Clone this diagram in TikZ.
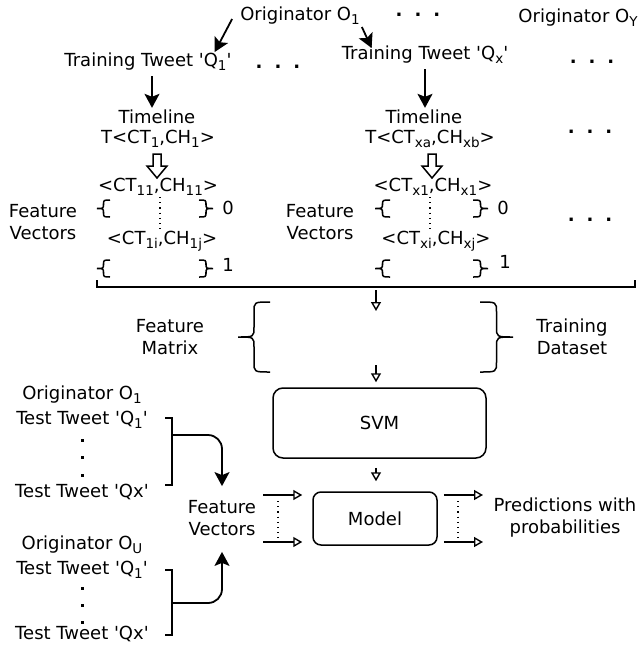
\documentclass[tikz,border=0pt]{standalone}
\usepackage{fontspec}
\setmainfont{DejaVu Sans}
\usetikzlibrary{arrows.meta}

\newcommand{\dotrow}{\textbf{.\hspace{12pt}.\hspace{12pt}.}}
\newcommand{\sq}{\textquotesingle}
\newcommand{\sub}[1]{\raisebox{-4pt}{\fontsize{13.5}{14}\selectfont #1}}
% curly brace: end x, tip x, top y, bottom y, bend
\newcommand{\curly}[5]{%
  \draw[brc] (#1,#3) .. controls ({(#1+#2)/2},#3) .. ({(#1+#2)/2},#3+#5)
    -- ({(#1+#2)/2},{(#3+#4)/2-#5}) .. controls ({(#1+#2)/2},{(#3+#4)/2}) .. (#2,{(#3+#4)/2})
    .. controls ({(#1+#2)/2},{(#3+#4)/2}) .. ({(#1+#2)/2},{(#3+#4)/2+#5})
    -- ({(#1+#2)/2},#4-#5) .. controls ({(#1+#2)/2},#4) .. (#1,#4);}
% fat open arrow pointing down
\newcommand{\fatdown}[2]{%
  \draw[line width=1.5pt, line join=miter] (#1-4,#2) -- (#1+4,#2) -- (#1+4,#2+12)
    -- (#1+10,#2+12) -- (#1,#2+24) -- (#1-10,#2+12) -- (#1-4,#2+12) -- cycle;}

\tikzset{
  flow/.style={line width=1.8pt, -{Stealth[length=14pt,width=15pt,inset=3pt]}},
  hflow/.style={line width=1.4pt, -{Triangle[open,length=9pt,width=10pt]}},
  brc/.style={line width=1.5pt},
  vdots/.style={line width=1.2pt, dash pattern=on 1.2pt off 4pt},
  box/.style={draw, line width=1.5pt, rounded corners=10pt},
}

\begin{document}
\begin{tikzpicture}[x=1pt, y=-1pt, font=\fontsize{18}{22}\selectfont,
  every node/.style={inner sep=0pt, align=center}]
\useasboundingbox (0,0) rectangle (639,645);

% originators and training tweets
\node (orig1) at (300,16) {Originator O\sub{1}};
\node (dotsA) at (418,15) {\dotrow};
\node (origY) at (578,18) {Originator O\sub{Y}};
\node (tw1) at (148,62) {Training Tweet \sq Q\sub{1}\sq};
\node (dotsB) at (278,67) {\dotrow};
\node (twx) at (425,55) {Training Tweet \sq Q\sub{x}\sq};
\node (dotsC) at (592,62) {\dotrow};

\draw[flow] ([xshift=-8pt,yshift=-3pt]orig1.west) -- ([xshift=-17pt,yshift=1pt]tw1.north east);
\draw[flow] ([xshift=2pt,yshift=-2pt]orig1.south east) -- ([xshift=30pt,yshift=-2pt]twx.north west);

% timelines
\node (tl1) at (157,117) {Timeline};
\node (tt1) at (158,139) {T<CT\sub{1},CH\sub{1}>};
\node (tlx) at (424,117) {Timeline};
\node (ttx) at (430,139) {T<CT\sub{xa},CH\sub{xb}>};
\node (dotsD) at (590,132) {\dotrow};

\draw[flow, shorten <=5pt, shorten >=2pt] ([xshift=4pt]tw1.south) -- ([xshift=4pt]tw1.south |- tl1.north);
\draw[flow, shorten <=5pt, shorten >=2pt] (twx.south) -- (twx.south |- tlx.north);
\fatdown{157}{154}
\fatdown{432}{154}

% feature vectors of each tweet
\node (fv1) at (43,222) {Feature\\Vectors};
\node (p11) at (158,187) {<CT\sub{11},CH\sub{11}>};
\node (p1j) at (162,241) {<CT\sub{1i},CH\sub{1j}>};
\node (z1) at (228,208) {0};
\node (o1) at (228,265) {1};
\curly{110}{97}{200}{217}{5}
\curly{199}{213}{200}{217}{5}
\curly{110}{97}{260}{277}{5}
\curly{199}{213}{260}{277}{5}
\draw[vdots] (160,197) -- (160,230);

\node (fvx) at (320,222) {Feature\\Vectors};
\node (px1) at (433,187) {<CT\sub{x1},CH\sub{x1}>};
\node (pxj) at (436,241) {<CT\sub{xi},CH\sub{xj}>};
\node (zx) at (503,208) {0};
\node (ox) at (505,262) {1};
\curly{390}{375}{200}{217}{5}
\curly{473}{488}{200}{217}{5}
\curly{390}{375}{260}{277}{5}
\curly{473}{488}{260}{277}{5}
\draw[vdots] (430,197) -- (430,230);
\node (dotsE) at (590,220) {\dotrow};

\draw[brc] (97,280) |- (635,287) -- (635,280);

% training set and classifier
\node (fmat) at (170,337) {Feature\\Matrix};
\node (tset) at (572,337) {Training\\Dataset};
\curly{270}{238}{302}{372}{10}
\curly{480}{513}{302}{372}{10}
\coordinate (mtop) at (376,290);
\coordinate (mmid) at (376,311);
\coordinate (mbot) at (376,365);

\node[box, minimum width=213pt, minimum height=70pt] (svm) at (379.5,423) {SVM};
\node[box, rounded corners=8pt, minimum width=124pt, minimum height=53pt] (model) at (375,518.5) {Model};

\draw[hflow] (mtop) -- (mmid);
\draw[hflow, shorten >=5pt] (mbot) -- (mbot |- svm.north);
\draw[hflow, shorten <=9pt, shorten >=10pt] ([xshift=-3.5pt]svm.south) -- ([xshift=1pt]model.north);

% test tweets
\node (orig1t) at (82,395) {Originator O\sub{1}};
\node (tq1) at (82,420) {Test Tweet \sq Q\sub{1}\sq};
\node (tqx) at (82,492) {Test Tweet \sq Qx\sq};
\foreach \y in {440,457,475}
  \fill (80.5,\y-1.5) rectangle ++(3.5,3.5);
\draw[brc] (165,418) -| (172,485) -- (165,485);
\coordinate (b1) at (172,435);

\node (origU) at (82,545) {Originator O\sub{U}};
\node (tq1b) at (82,570) {Test Tweet \sq Q\sub{1}\sq};
\node (tqxb) at (82,634) {Test Tweet \sq Qx\sq};
\foreach \y in {588,605,622}
  \fill (80.5,\y-1.5) rectangle ++(3.5,3.5);
\draw[brc] (165,570) -| (172,635) -- (165,635);
\coordinate (b2) at (172,603);

\node (fvt) at (222,518) {Feature\\Vectors};
\draw[flow, rounded corners=14pt, shorten >=14pt] (b1) -| (fvt.north);
\draw[flow, rounded corners=14pt, shorten >=16pt] (b2) -| (fvt.south);

% model inputs and outputs
\coordinate (in1) at (263,495);
\coordinate (in2) at (263,542);
\coordinate (out1) at (483,495);
\coordinate (out2) at (483,542);
\draw[hflow, shorten >=10pt] (in1) -- (in1 -| model.west);
\draw[hflow, shorten >=10pt] (in2) -- (in2 -| model.west);
\draw[hflow, shorten <=6pt] (model.east |- out1) -- (out1);
\draw[hflow, shorten <=6pt] (model.east |- out2) -- (out2);
\draw[vdots] (278,501) -- (278,538);
\draw[vdots] (458,501) -- (458,538);

\node (pred) at (565,518) {Predictions with\\probabilities};
\end{tikzpicture}
\end{document}
